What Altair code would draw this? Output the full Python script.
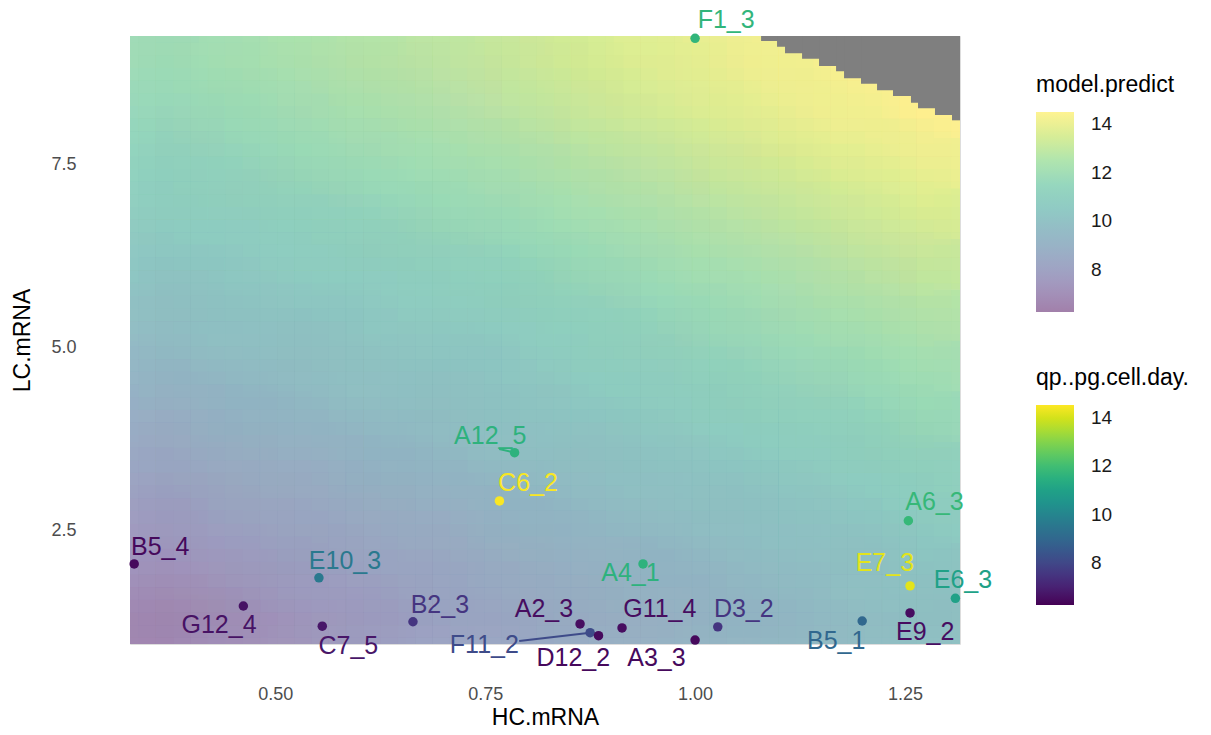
import altair as alt
import pandas as pd

# ---------------- data ----------------
# model.predict surface (cell centres)
hc_grid = [0.368, 0.451, 0.533, 0.615, 0.698, 0.780, 0.863, 0.945, 1.027, 1.110, 1.192, 1.274]
lc_grid = [1.30, 1.99, 2.69, 3.38, 4.07, 4.76, 5.45, 6.15, 6.84, 7.53, 8.22, 8.91]
pred_rows = [
    [6.68, 7.05, 7.42, 7.77, 8.13, 8.44, 8.70, 8.95, 9.21, 9.46, 9.72, 9.97],
    [7.25, 7.58, 7.89, 8.19, 8.51, 8.79, 9.05, 9.30, 9.56, 9.81, 10.07, 10.32],
    [7.80, 8.09, 8.37, 8.64, 8.92, 9.19, 9.45, 9.70, 9.96, 10.21, 10.47, 10.72],
    [8.34, 8.62, 8.87, 9.13, 9.39, 9.64, 9.90, 10.15, 10.41, 10.66, 10.92, 11.17],
    [8.88, 9.15, 9.40, 9.65, 9.89, 10.14, 10.40, 10.65, 10.91, 11.16, 11.42, 11.67],
    [9.42, 9.67, 9.88, 10.10, 10.31, 10.55, 10.81, 11.07, 11.33, 11.60, 11.86, 12.12],
    [9.90, 10.12, 10.34, 10.56, 10.77, 11.00, 11.27, 11.54, 11.81, 12.08, 12.35, 12.61],
    [10.36, 10.58, 10.79, 11.00, 11.18, 11.40, 11.69, 11.97, 12.26, 12.54, 12.83, 13.11],
    [10.82, 11.04, 11.26, 11.47, 11.68, 11.90, 12.19, 12.47, 12.76, 13.04, 13.33, 13.61],
    [11.26, 11.48, 11.70, 11.92, 12.12, 12.36, 12.65, 12.94, 13.23, 13.53, 13.82, 14.11],
    [11.62, 11.86, 12.10, 12.34, 12.58, 12.84, 13.15, 13.44, 13.73, 14.03, 14.32, 14.50],
    [11.92, 12.17, 12.42, 12.66, 12.90, 13.15, 13.45, 13.74, 14.03, 14.33, 14.50, 14.50],
]

# NA (grey) region of the surface: staircase steps
grey_hc_start = [1.0786, 1.0976, 1.1071, 1.1274, 1.1476, 1.1679, 1.1774,
                 1.1976, 1.2167, 1.2357, 1.2571, 1.2655, 1.2857, 1.3060]
grey_lc_bottom = [9.194, 9.116, 9.026, 8.952, 8.852, 8.780, 8.684,
                  8.610, 8.520, 8.443, 8.351, 8.275, 8.183, 8.110]

# samples
sample = ["B5_4", "E10_3", "G12_4", "C7_5", "B2_3", "A2_3", "F11_2", "D12_2", "G11_4", "A3_3",
          "D3_2", "B5_1", "E9_2", "E6_3", "E7_3", "A6_3", "A4_1", "C6_2", "A12_5", "F1_3"]
hc = [0.332, 0.552, 0.462, 0.556, 0.664, 0.863, 0.875, 0.885, 0.913, 1.000,
      1.027, 1.199, 1.256, 1.310, 1.256, 1.254, 0.938, 0.767, 0.785, 1.000]
lc = [2.05, 1.86, 1.475, 1.20, 1.26, 1.23, 1.11, 1.07, 1.175, 1.01,
      1.19, 1.27, 1.38, 1.58, 1.75, 2.64, 2.05, 2.91, 3.57, 9.23]
qp = [6.4, 9.6, 6.6, 6.7, 7.5, 6.5, 8.1, 6.4, 6.5, 6.4,
      7.5, 9.0, 6.5, 11.0, 14.2, 11.8, 11.6, 14.5, 11.6, 11.7]
label_hc = [0.363, 0.583, 0.433, 0.587, 0.696, 0.820, 0.749, 0.855, 0.958, 0.954,
            1.058, 1.168, 1.274, 1.319, 1.226, 1.285, 0.923, 0.801, 0.756, 1.037]
label_lc = [2.28, 2.09, 1.216, 0.929, 1.489, 1.435, 0.943, 0.765, 1.435, 0.765,
            1.435, 0.997, 1.120, 1.831, 2.063, 2.894, 1.930, 3.156, 3.798, 9.48]

# repel segments (label end -> point)
seg_sample = ["F11_2", "A12_5"]
seg_hc_start = [0.7905, 0.7667]
seg_lc_start = [0.997, 3.62]

# ---------------- tables ----------------
HC_DOMAIN = [0.327, 1.3155]
LC_DOMAIN = [0.956, 9.262]
dx = (hc_grid[-1] - hc_grid[0]) / (len(hc_grid) - 1)
dy = (lc_grid[-1] - lc_grid[0]) / (len(lc_grid) - 1)


def cells(ox, oy, grow):
    rows = []
    for i, yc in enumerate(lc_grid):
        for j, xc in enumerate(hc_grid):
            cx = xc + ox * dx
            cy = yc + oy * dy
            rows.append({"x0": cx - dx * grow, "x1": cx + dx * grow,
                         "y0": cy - dy * grow, "y1": cy + dy * grow,
                         "pred": pred_rows[i][j]})
    return pd.DataFrame(rows)


grey = pd.DataFrame({
    "x0": grey_hc_start,
    "x1": [HC_DOMAIN[1]] * len(grey_hc_start),
    "y0": grey_lc_bottom,
    "y1": [LC_DOMAIN[1]] * len(grey_hc_start),
})

pts = pd.DataFrame({"sample": sample, "hc": hc, "lc": lc, "qp": qp,
                    "lhc": label_hc, "llc": label_lc})
seg = pts[pts["sample"].isin(seg_sample)].copy()
seg["shc"] = [seg_hc_start[seg_sample.index(s)] for s in seg["sample"]]
seg["slc"] = [seg_lc_start[seg_sample.index(s)] for s in seg["sample"]]

# ---------------- styles ----------------
FONT = "Liberation Sans"
pale_viridis = ["#a280aa", "#a396bd", "#9da8c5", "#96b8c6", "#90c8c5",
                "#94d6bf", "#aee4b0", "#d6ed97", "#fef392"]
PRED_DOM = [6.25, 14.5]
QP_DOM = [6.24, 14.55]
SEG_DOM = [6.23, 14.56]

xs = alt.Scale(domain=HC_DOMAIN, nice=False, zero=False)
ys = alt.Scale(domain=LC_DOMAIN, nice=False, zero=False)

x_axis = alt.Axis(values=[0.5, 0.75, 1.0, 1.25], format=".2f", grid=False, domain=False,
                  ticks=False, labelFontSize=18, labelColor="#4d4d4d", labelPadding=41,
                  labelFont=FONT, title="HC.mRNA", titleFontSize=23, titleFont=FONT,
                  titleFontWeight="normal", titleColor="black", titlePadding=3)
y_axis = alt.Axis(values=[2.5, 5.0, 7.5], format=".1f", grid=False, domain=False,
                  ticks=False, labelFontSize=18, labelColor="#4d4d4d", labelPadding=54,
                  labelFont=FONT, title="LC.mRNA", titleFontSize=23, titleFont=FONT,
                  titleFontWeight="normal", titleColor="black", titlePadding=16)


def make_legend(title, ly):
    return alt.Legend(title=title, orient="none", legendX=906, legendY=ly,
                      direction="vertical", type="gradient", gradientLength=200,
                      gradientThickness=38, gradientStrokeWidth=0,
                      values=[8, 10, 12, 14], titleFontSize=23, titleFont=FONT,
                      titleFontWeight="normal", titlePadding=15, labelFontSize=19,
                      labelFont=FONT, labelColor="#1a1a1a", labelOffset=17)


pred_legend = make_legend("model.predict", 38)
qp_legend = make_legend("qp..pg.cell.day.", 331)

pred_scale = alt.Scale(domain=PRED_DOM, range=pale_viridis, interpolate="rgb")
qp_scale = alt.Scale(domain=QP_DOM, scheme="viridis")
seg_scale = alt.Scale(domain=SEG_DOM, scheme="viridis")

# surface: an opaque base plus shifted, averaged copies (a soft box blur)
steps = [-3 / 8, -1 / 8, 1 / 8, 3 / 8]
offs = [(0, 0)] + [(ox, oy) for ox in steps for oy in steps]
surface_layers = []
for k, (ox, oy) in enumerate(offs):
    enc = dict(
        x=alt.X("x0:Q", scale=xs, axis=x_axis),
        x2="x1:Q",
        y=alt.Y("y0:Q", scale=ys, axis=y_axis),
        y2="y1:Q",
        color=alt.Color("pred:Q", scale=pred_scale, legend=pred_legend),
    )
    surface_layers.append(
        alt.Chart(cells(ox, oy, 0.51 if k == 0 else 0.5)).mark_rect(
            strokeWidth=0, clip=True, opacity=1.0 / (k + 1)).encode(**enc)
    )

na_area = alt.Chart(grey).mark_rect(color="#7f7f7f", strokeWidth=0).encode(
    x=alt.X("x0:Q", scale=xs, axis=x_axis), x2="x1:Q",
    y=alt.Y("y0:Q", scale=ys, axis=y_axis), y2="y1:Q",
)

segments = alt.Chart(seg).mark_rule(strokeWidth=2).encode(
    x=alt.X("shc:Q", scale=xs, axis=x_axis), y=alt.Y("slc:Q", scale=ys, axis=y_axis),
    x2="hc:Q", y2="lc:Q",
    stroke=alt.Stroke("qp:Q", scale=seg_scale, legend=None),
)

points = alt.Chart(pts).mark_circle(size=90, opacity=1).encode(
    x=alt.X("hc:Q", scale=xs, axis=x_axis), y=alt.Y("lc:Q", scale=ys, axis=y_axis),
    fill=alt.Fill("qp:Q", scale=qp_scale, legend=qp_legend),
)

labels = alt.Chart(pts).mark_text(fontSize=25, font=FONT, align="center",
                                  baseline="middle").encode(
    x=alt.X("lhc:Q", scale=xs, axis=x_axis), y=alt.Y("llc:Q", scale=ys, axis=y_axis),
    text="sample:N",
    fill=alt.Fill("qp:Q", scale=qp_scale, legend=qp_legend),
)

chart = alt.layer(*surface_layers, na_area, segments, points, labels).properties(
    width=830, height=608,
    autosize=alt.AutoSizeParams(type="none"),
    padding={"left": 130, "top": 36, "right": 251, "bottom": 91},
).configure_view(stroke=None).configure(background="white")

chart.save("out.html", embed_options={"renderer": "svg", "actions": False})
